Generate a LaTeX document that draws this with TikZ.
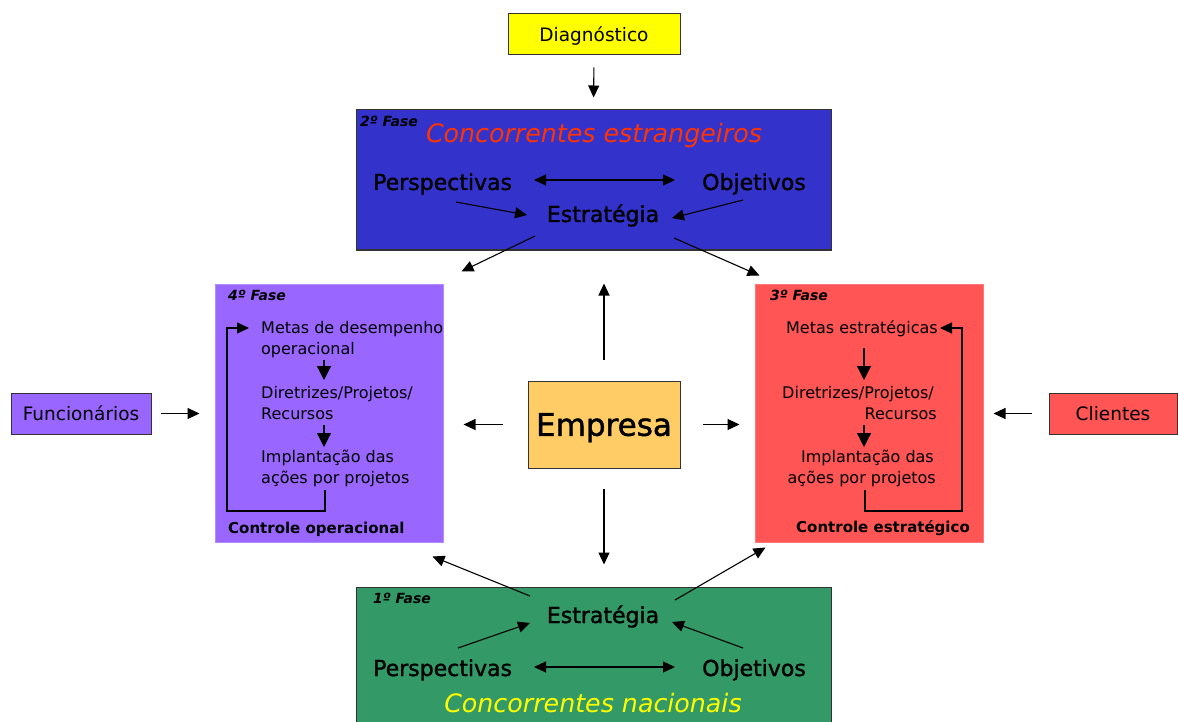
\documentclass[tikz,border=0pt]{standalone}
\usepackage{fontspec}
\setmainfont{DejaVu Sans}
\newfontfamily\heavyfont[FakeBold=1.4]{DejaVu Sans}
\usetikzlibrary{arrows.meta,calc}

\definecolor{diagfill}{HTML}{FFFF00}
\definecolor{fasedois}{HTML}{3333CC}
\definecolor{faseum}{HTML}{339966}
\definecolor{roxo}{HTML}{9966FF}
\definecolor{roxoborda}{HTML}{B38CFF}
\definecolor{verm}{HTML}{FF5555}
\definecolor{vermborda}{HTML}{FF7777}
\definecolor{empfill}{HTML}{FFCC66}
\definecolor{edge}{HTML}{333333}
\definecolor{titulovermelho}{HTML}{FF3300}
\definecolor{tituloamarelo}{HTML}{FFFF00}

\begin{document}
\begin{tikzpicture}[x=1pt,y=-1pt,
  frame/.style={draw=edge, line width=1pt, inner sep=0pt},
  tagbox/.style={draw=edge, line width=1pt, inner sep=0pt,
    font=\fontsize{18.5}{20}\selectfont, text height=13.5pt, text depth=0pt},
  big/.style={inner sep=0pt, font=\heavyfont\fontsize{22}{26}\selectfont},
  small/.style={inner sep=0pt, font=\fontsize{16}{21}\selectfont},
  phase/.style={inner sep=0pt, font=\fontsize{14}{16}\selectfont\bfseries\itshape},
  ctrl/.style={inner sep=0pt, font=\fontsize{15}{18}\selectfont\bfseries},
  title/.style={inner sep=0pt, font=\fontsize{25.3}{28}\selectfont\itshape},
  arr/.style={-{Triangle[length=12pt,width=11pt]}, line width=1.1pt},
  darr/.style={{Triangle[length=12pt,width=11pt]}-{Triangle[length=12pt,width=11pt]}, line width=1.1pt},
  inarr/.style={-{Triangle[length=14pt,width=14pt]}, line width=1.2pt}]

\useasboundingbox (0,0) rectangle (1178,722);
\fill[white] (0,0) rectangle (1178,722);

% ---------- frames ----------
\node[tagbox, fill=diagfill, minimum width=172pt, minimum height=41pt] (diag) at (594,34.5) {Diagnóstico};
\node[frame, fill=fasedois, minimum width=475pt, minimum height=140pt] (f2) at (593.5,180) {};
\node[frame, fill=faseum, minimum width=475pt, minimum height=140pt] (f1) at (593.5,657) {};
\node[draw=roxoborda, line width=1pt, inner sep=0pt, fill=roxo, minimum width=228pt, minimum height=258pt] (f4) at (329,413) {};
\node[draw=vermborda, line width=1pt, inner sep=0pt, fill=verm, minimum width=228pt, minimum height=258pt] (f3) at (869,413) {};
\node[frame, fill=empfill, minimum width=152pt, minimum height=87pt,
      font=\heavyfont\fontsize{31}{31}\selectfont, text height=22.6pt, text depth=0pt] (emp) at (604,424.5) {Empresa};
\node[tagbox, fill=roxo, minimum width=140pt, minimum height=41pt] (func) at (81,413.5) {Funcionários};
\node[tagbox, fill=verm, minimum width=128pt, minimum height=41pt] (cli) at (1113,413.5) {Clientes};

% ---------- 2a fase ----------
\node[phase, anchor=base west] (ph2) at (360,127) {2º Fase};
\node[title, text=titulovermelho, anchor=base] (t2) at (594,143) {Concorrentes estrangeiros};
\node[big, anchor=base west] (persp2) at (373,190) {Perspectivas};
\node[big, anchor=base west] (obj2) at (702,190) {Objetivos};
\node[big, anchor=base] (estr2) at (603,222) {Estratégia};

% ---------- 1a fase ----------
\node[phase, anchor=base west] (ph1) at (373,603) {1º Fase};
\node[big, anchor=base] (estr1) at (603,623) {Estratégia};
\node[big, anchor=base west] (persp1) at (373,676) {Perspectivas};
\node[big, anchor=base west] (obj1) at (702,676) {Objetivos};
\node[title, text=tituloamarelo, anchor=base] (t1) at (593,712) {Concorrentes nacionais};

% ---------- 4a fase ----------
\node[phase, anchor=base west] (ph4) at (228,300) {4º Fase};
\node[small, anchor=base west] (m4a) at (261,333) {Metas de desempenho};
\node[small, anchor=base west] (m4b) at (261,354) {operacional};
\node[small, anchor=base west] (d4a) at (261,398) {Diretrizes/Projetos/};
\node[small, anchor=base west] (d4b) at (261,419) {Recursos};
\node[small, anchor=base west] (i4a) at (261,462) {Implantação das};
\node[small, anchor=base west] (i4b) at (261,483) {ações por projetos};
\node[ctrl, anchor=base west] (c4) at (228,533) {Controle operacional};

% ---------- 3a fase ----------
\node[phase, anchor=base west] (ph3) at (770,300) {3º Fase};
\node[small, anchor=base east] (m3) at (938,333) {Metas estratégicas};
\node[small, anchor=base east] (d3a) at (934,398) {Diretrizes/Projetos/};
\node[small, anchor=base east] (d3b) at (937,419) {Recursos};
\node[small, anchor=base east] (i3a) at (934,462) {Implantação das};
\node[small, anchor=base east] (i3b) at (936,483) {ações por projetos};
\node[ctrl, anchor=base east] (c3) at (970,532) {Controle estratégico};

% ---------- connectors ----------
\draw[arr, shorten <=12pt, shorten >=12pt] (diag.south) -- (f2.north);

% 2a fase internals
\draw[darr] ([shift={(161,-10)}]persp2.base west) -- ([shift={(-27,-10)}]obj2.base west);
\draw[arr] ([shift={(83,12)}]persp2.base west) -- ([shift={(-76,-7)}]estr2.base);
\draw[arr] ([shift={(41,10)}]obj2.base west) -- ([shift={(69,-4)}]estr2.base);
\draw[arr] ([shift={(-68,14)}]estr2.base) -- ([shift={(18,-12)}]f4.north east);
\draw[arr] ([shift={(71,16)}]estr2.base) -- ([shift={(5,-8)}]f3.north west);

% 1a fase internals
\draw[darr] ([shift={(161,-9)}]persp1.base west) -- ([shift={(-27,-9)}]obj1.base west);
\draw[arr] ([shift={(85,-28)}]persp1.base west) -- ([shift={(-73,0)}]estr1.base);
\draw[arr] ([shift={(41,-28)}]obj1.base west) -- ([shift={(69,-1)}]estr1.base);
\draw[arr] ([shift={(-73,-27)}]estr1.base) -- ([shift={(-11,14)}]f4.south east);
\draw[arr] ([shift={(72,-23)}]estr1.base) -- ([shift={(11,5)}]f3.south west);

% Empresa outwards
\draw[arr, shorten <=21pt] (emp.north) -- (emp.north |- f4.north);
\draw[arr, shorten <=20pt, shorten >=22pt] (emp.south) -- (emp.south |- f1.north);
\draw[arr, shorten <=25pt, shorten >=20pt] (emp.west) -- (emp.west -| f4.east);
\draw[arr, shorten <=22pt, shorten >=15pt] (emp.east) -- (emp.east -| f3.west);

% side inputs
\draw[arr, shorten <=9pt, shorten >=15pt] (func.east) -- (func.east -| f4.west);
\draw[arr, shorten <=17pt, shorten >=10pt] (cli.west) -- (cli.west -| f3.east);

% 4a fase cycle
\draw[inarr] ([shift={(63,6)}]m4b.base west) -- ([shift={(63,-18)}]d4a.base west);
\draw[inarr] ([shift={(63,6)}]d4b.base west) -- ([shift={(63,-15)}]i4a.base west);
\draw[arr] ([shift={(64,7)}]i4b.base west) -- ++(0,21) -| ([shift={(-34,-5)}]m4a.base west)
  -- ([shift={(-12,-5)}]m4a.base west);

% 3a fase cycle
\draw[inarr] ([shift={(-74,15)}]m3.base east) -- ([shift={(-70,-18)}]d3a.base east);
\draw[inarr] ([shift={(-73,6)}]d3b.base east) -- ([shift={(-70,-15)}]i3a.base east);
\draw[arr] ([shift={(-71,7)}]i3b.base east) -- ++(0,21) -| ([shift={(24,-5)}]m3.base east)
  -- ([shift={(2,-5)}]m3.base east);

\end{tikzpicture}
\end{document}
